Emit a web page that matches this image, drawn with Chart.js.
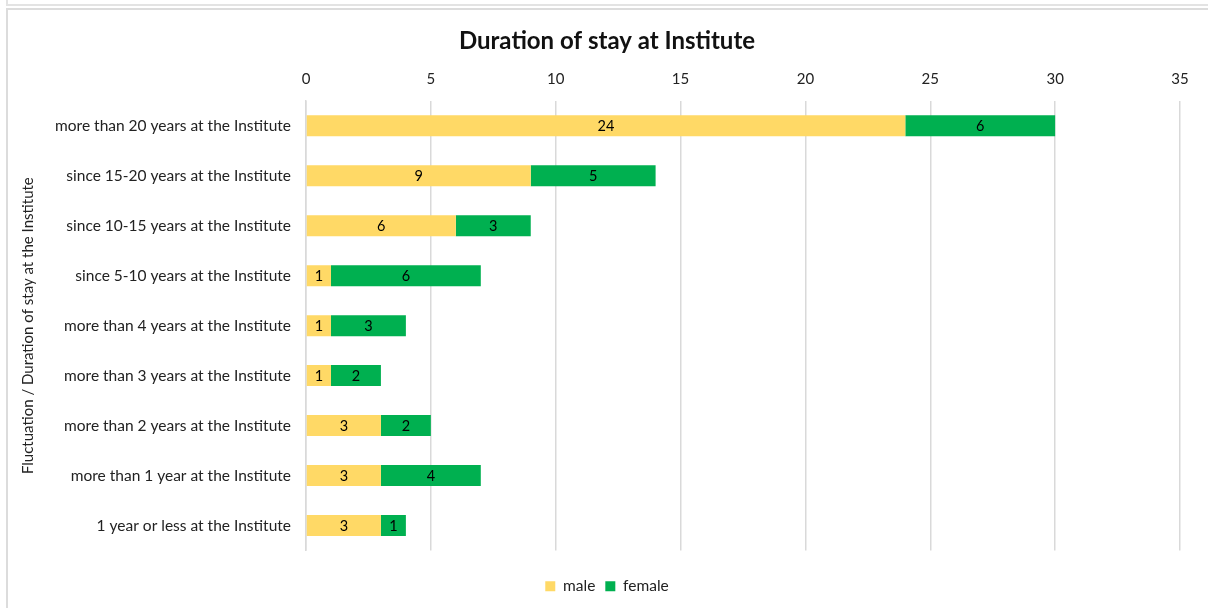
<!DOCTYPE html>
<html>
<head>
<meta charset="utf-8">
<script src="https://cdn.jsdelivr.net/npm/chart.js@4.4.1/dist/chart.umd.min.js"></script>
<style>
  body { margin: 0; background: #fff; overflow: hidden; }
  #wrap { position: relative; width: 1208px; height: 608px; }
  #prev { position: absolute; left: 6px; top: -20px; width: 1220px; height: 22px; border: 2px solid #e3e3e3; }
  #frame { position: absolute; left: 6px; top: 8px; width: 1220px; height: 620px; border: 2px solid #dcdcdc; }
  canvas { position: absolute; left: 0; top: 0; }
</style>
</head>
<body>
<div id="wrap">
  <div id="prev"></div>
  <div id="frame"></div>
  <canvas id="chart" width="1208" height="608"></canvas>
</div>
<script>
// categories, top to bottom
const categories = [
    'more than 20 years at the Institute',
    'since 15-20 years at the Institute',
    'since 10-15 years at the Institute',
    'since 5-10 years at the Institute',
    'more than 4 years at the Institute',
    'more than 3 years at the Institute',
    'more than 2 years at the Institute',
    'more than 1 year at the Institute',
    '1 year or less at the Institute'
];
const maleValues = [24, 9, 6, 1, 1, 1, 3, 3, 3];
const femaleValues = [6, 5, 3, 6, 3, 2, 2, 4, 1];
const xTicks = [0, 5, 10, 15, 20, 25, 30, 35];

const FONT = 'Lato, "Open Sans", sans-serif';
const PAD_LEFT = 34;

// value labels in the middle of each bar
const barLabels = {
    id: 'barLabels',
    afterDatasetsDraw(chart) {
        const ctx = chart.ctx;
        ctx.save();
        ctx.font = '14.5px ' + FONT;
        ctx.fillStyle = '#000';
        ctx.textAlign = 'center';
        ctx.textBaseline = 'middle';
        chart.data.datasets.forEach(function(ds, i) {
            chart.getDatasetMeta(i).data.forEach(function(bar, j) {
                const p = bar.getProps(['x', 'y', 'base'], true);
                ctx.fillText(ds.data[j], (p.x + p.base) / 2, p.y + 1);
            });
        });
        ctx.restore();
    }
};

new Chart(document.getElementById('chart'), {
    type: 'bar',
    data: {
        labels: categories,
        datasets: [{
            label: 'male',
            data: maleValues,
            backgroundColor: '#FFD966'
        }, {
            label: 'female',
            data: femaleValues,
            backgroundColor: '#00B050'
        }]
    },
    options: {
        indexAxis: 'y',
        responsive: false,
        animation: false,
        barPercentage: 0.5,
        categoryPercentage: 0.84,
        layout: { padding: { top: 0, right: 28, bottom: 4, left: PAD_LEFT } },
        scales: {
            x: {
                position: 'top',
                stacked: true,
                min: 0,
                max: 35,
                afterBuildTicks: function(scale) {
                    scale.ticks = xTicks.map(function(v) { return { value: v }; });
                },
                afterFit: function(scale) {
                    scale.height = 45;
                    scale.paddingLeft = 0;
                    scale.paddingRight = 0;
                },
                grid: { color: '#d9d9d9', lineWidth: 1.5, drawTicks: false },
                border: { display: false },
                ticks: { padding: 13, color: '#222', font: { family: FONT, size: 15 } }
            },
            // empty spacer between plot and legend
            x2: {
                type: 'linear',
                position: 'bottom',
                display: true,
                afterFit: function(scale) {
                    scale.height = 18;
                    scale.paddingLeft = 0;
                    scale.paddingRight = 0;
                },
                grid: { display: false, drawTicks: false },
                border: { display: false },
                ticks: { display: false }
            },
            y: {
                stacked: true,
                afterFit: function(scale) { scale.width = 306 - PAD_LEFT; },
                grid: { display: false, drawTicks: false },
                border: { color: '#d9d9d9', width: 1.5 },
                ticks: { padding: 15, color: '#222', font: { family: FONT, size: 15.5 } },
                title: {
                    display: true,
                    text: 'Fluctuation / Duration of stay at the Institute',
                    color: '#222',
                    padding: { top: 19 - PAD_LEFT, bottom: 0 },
                    font: { family: FONT, size: 15 }
                }
            }
        },
        plugins: {
            title: {
                display: true,
                text: 'Duration of stay at Institute',
                color: '#111',
                padding: { top: 27, bottom: 0 },
                font: { family: FONT, size: 24, weight: 'bold' }
            },
            legend: {
                position: 'bottom',
                labels: {
                    boxWidth: 10,
                    boxHeight: 10,
                    padding: 10,
                    color: '#222',
                    font: { family: FONT, size: 15.5 }
                }
            },
            tooltip: { enabled: false }
        }
    },
    plugins: [barLabels]
});
</script>
</body>
</html>
